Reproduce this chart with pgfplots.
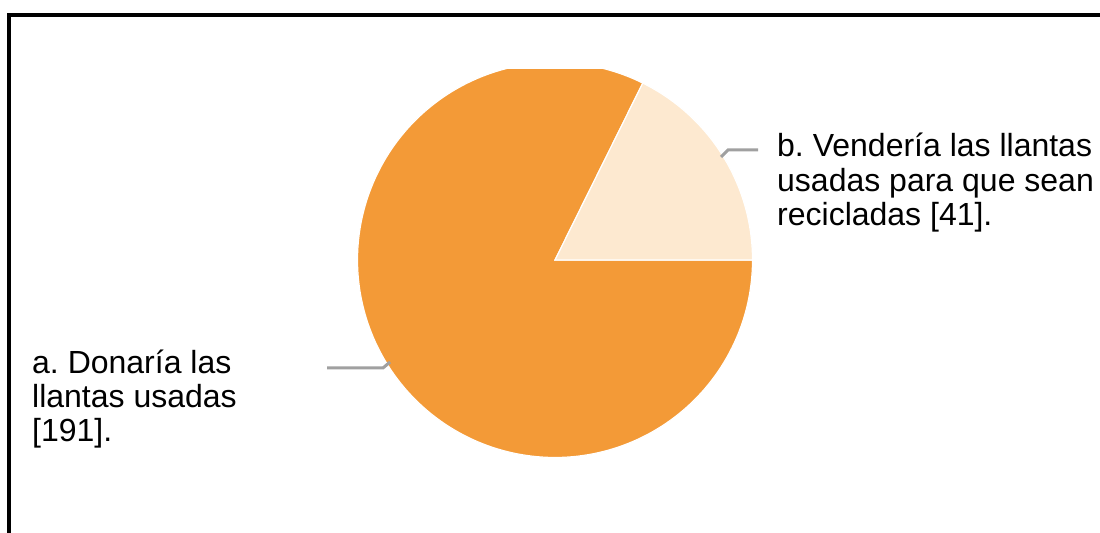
\documentclass[border=0pt]{standalone}
\usepackage{pgfplots}
\pgfplotsset{compat=1.18}
\usepackage{fontspec}
\setmainfont{Liberation Sans}
\frenchspacing
\definecolor{pieA}{HTML}{F39A37}
\definecolor{pieB}{HTML}{FDE9D0}
\definecolor{lead}{HTML}{A0A0A0}
\begin{document}
\frenchspacing
\begin{tikzpicture}[x=1bp,y=1bp]
\useasboundingbox (0,0) rectangle (1100,533);
\pgfmathsetmacro{\va}{191}
\pgfmathsetmacro{\vb}{41}
\pgfmathsetmacro{\angB}{\vb/(\va+\vb)*360}
% pie, clipped at its top like the reference
\begin{axis}[at={(0,0)},anchor=south west,scale only axis,
  width=1100bp,height=463bp,xmin=0,xmax=1100,ymin=0,ymax=463,
  hide axis,clip=true]
\addplot[fill=pieA,draw=white,line width=1.2bp,domain=\angB:360,samples=240,variable=\t]
  ({555+197.5*cos(t)},{273+197.5*sin(t)}) -- (axis cs:555,273) -- cycle;
\addplot[fill=pieB,draw=white,line width=1.2bp,domain=0:\angB,samples=80,variable=\t]
  ({555+197.5*cos(t)},{273+197.5*sin(t)}) -- (axis cs:555,273) -- cycle;
\end{axis}
% frame, leader lines and labels
\begin{axis}[at={(0,0)},anchor=south west,scale only axis,
  width=1100bp,height=533bp,xmin=0,xmax=1100,ymin=0,ymax=533,
  hide axis,clip=false]
\addplot[black,line width=4bp,line join=miter] coordinates {(8.7,0) (8.7,517.7) (1100,517.7)};
\addplot[lead,line width=3bp] coordinates {(721,376) (728,383) (758,383)};
\addplot[lead,line width=3bp] coordinates {(327,165) (383,165) (390,171)};
\node[anchor=base west,inner sep=0pt,font=\fontsize{32bp}{34.5bp}\selectfont\frenchspacing] at (axis cs:777,376) {b. Vendería las llantas};
\node[anchor=base west,inner sep=0pt,font=\fontsize{32bp}{34.5bp}\selectfont\frenchspacing] at (axis cs:777,341.5) {usadas para que sean};
\node[anchor=base west,inner sep=0pt,font=\fontsize{32bp}{34.5bp}\selectfont\frenchspacing] at (axis cs:777,307) {recicladas [41].};
\node[anchor=base west,inner sep=0pt,font=\fontsize{32bp}{34.5bp}\selectfont\frenchspacing] at (axis cs:32,159) {a. Donaría las};
\node[anchor=base west,inner sep=0pt,font=\fontsize{32bp}{34.5bp}\selectfont\frenchspacing] at (axis cs:32,125) {llantas usadas};
\node[anchor=base west,inner sep=0pt,font=\fontsize{32bp}{34.5bp}\selectfont\frenchspacing] at (axis cs:32,91) {[191].};
\end{axis}
\end{tikzpicture}
\end{document}
